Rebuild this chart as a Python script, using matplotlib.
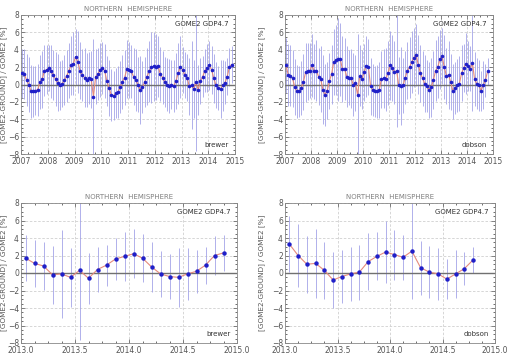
import matplotlib
matplotlib.use("Agg")
import matplotlib.pyplot as plt
from matplotlib.ticker import MultipleLocator, FormatStrFormatter

# monthly relative differences, Jan 2007 .. Nov 2014 (brewer), Jan 2007 .. Oct 2014 (dobson)
brewer_vals = [
    1.3, 1.2, 0.5, 0.0, -0.8, -0.8, -0.7, -0.6, 0.3, 0.6, 1.6, 1.7,
    1.9, 1.5, 1.1, 0.6, 0.2, -0.1, 0.1, 0.5, 1.0, 1.6, 2.2, 2.4,
    3.2, 2.6, 1.6, 1.1, 0.8, 0.5, 0.7, 0.6, -1.4, 0.9, 1.2, 1.7,
    1.9, 1.6, 0.4, -0.4, -1.2, -1.3, -1.0, -0.9, -0.3, 0.3, 0.8, 1.8,
    1.7, 1.5, 0.9, 0.5, 0.0, -0.6, -0.3, 0.3, 0.9, 1.5, 2.0, 2.1,
    2.0, 2.1, 1.2, 0.8, 0.3, 0.0, -0.2, 0.0, -0.2, 0.4, 1.3, 2.0,
    1.7, 1.1, 0.8, -0.2, -0.1, -0.5, 0.3, -0.6, 0.4, 0.9, 1.6, 1.9,
    2.2, 1.7, 0.7, -0.1, -0.4, -0.5, -0.1, 0.2, 0.9, 2.0, 2.3,
]
brewer_err = [
    2.8, 2.9, 3.0, 3.2, 3.0, 2.9, 2.8, 3.0, 3.1, 3.3, 2.9, 2.8,
    2.7, 3.0, 2.9, 3.1, 3.3, 2.8, 2.7, 2.9, 3.0, 3.2, 3.4, 3.6,
    3.2, 3.6, 3.3, 3.0, 3.4, 3.1, 3.0, 3.3, 6.6, 3.2, 3.0, 3.1,
    3.0, 3.1, 2.9, 3.2, 3.0, 2.8, 2.9, 3.0, 3.0, 3.1, 3.2, 3.3,
    3.2, 3.0, 3.3, 3.6, 3.2, 3.9, 3.0, 2.9, 3.3, 3.5, 4.1, 4.0,
    3.8, 3.5, 3.1, 3.0, 2.9, 3.0, 3.1, 2.8, 3.0, 3.2, 3.5, 3.6,
    2.65, 2.65, 2.7, 3.3, 5.05, 3.35, 7.9, 2.9, 2.6, 2.35, 2.45, 2.8,
    2.8, 2.75, 2.85, 2.65, 2.55, 3.35, 2.95, 2.45, 2.1, 2.2, 2.1,
]
dobson_vals = [
    2.2, 1.1, 1.0, 0.7, -0.3, -0.8, -0.8, -0.4, 0.3, 1.4, 1.5, 1.6,
    2.2, 1.5, 1.6, 0.9, 0.6, -0.6, -1.2, -0.7, 0.4, 1.2, 2.6, 2.8,
    2.9, 2.9, 1.8, 1.8, 0.9, 0.8, 0.7, 0.0, 0.2, -1.2, 1.0, 0.6,
    1.4, 2.1, 2.0, -0.2, -0.6, -0.8, -0.8, -0.6, 0.6, 0.7, 0.6, 1.3,
    2.2, 1.9, 1.4, 1.6, -0.1, -0.2, -0.1, 0.8, 1.6, 2.0, 2.6, 3.1,
    3.4, 2.3, 1.3, 0.7, 0.1, -0.2, -0.6, -0.3, 0.5, 1.6, 2.0, 2.9,
    3.3, 2.0, 1.0, 1.1, 0.3, -0.8, -0.4, -0.1, 0.1, 1.3, 1.9, 2.4,
    2.1, 1.8, 2.5, 0.6, 0.1, -0.1, -0.7, -0.1, 0.5, 1.5,
]
dobson_err = [
    3.2, 3.6, 3.5, 3.3, 3.2, 3.0, 2.9, 3.1, 3.2, 3.4, 3.3, 3.2,
    3.6, 3.2, 3.5, 3.3, 3.8, 4.0, 3.6, 3.3, 3.2, 3.4, 3.8, 4.0,
    4.8, 4.2, 3.8, 3.6, 3.5, 3.2, 3.4, 3.6, 3.2, 7.0, 3.5, 3.4,
    3.3, 3.5, 3.2, 3.3, 3.0, 2.9, 3.0, 3.2, 3.3, 3.4, 3.6, 3.7,
    4.0, 3.8, 3.6, 6.5, 3.3, 4.5, 3.2, 3.0, 3.3, 3.5, 3.6, 3.4,
    3.6, 3.4, 3.3, 3.2, 3.3, 3.0, 3.2, 3.4, 3.3, 3.5, 3.6, 3.4,
    3.2, 3.65, 3.25, 3.9, 3.25, 3.15, 3.0, 3.05, 3.15, 3.25, 2.75, 3.55,
    2.85, 2.6, 5.5, 3.1, 2.95, 2.95, 2.3, 2.75, 1.9, 1.5,
]
start_year = 2007
zoom_year = 2013
title = "NORTHERN  HEMISPHERE"
label = "GOME2 GDP4.7"
ylabel = "[GOME2-GROUND] / GOME2 [%]"

GREY = "#555555"


def months(n, y0):
    return [y0 + (i + 0.5) / 12.0 for i in range(n)]


def panel(ax, x, y, e, station, xlim, xmajor, fmt, ms, ylab_x):
    ax.errorbar(x, y, yerr=e, fmt="none", ecolor="#a3a3e8", elinewidth=0.6,
                capsize=0, zorder=2)
    ax.axhline(0, color="#707070", lw=1.0, zorder=3)
    ax.plot(x, y, color="#e58a7c", lw=0.8, zorder=4)
    ax.plot(x, y, "o", color="#1f1fc8", ms=ms, mec="none", zorder=5)
    ax.set_xlim(*xlim)
    ax.set_ylim(-8, 8)
    ax.xaxis.set_major_locator(MultipleLocator(xmajor))
    ax.xaxis.set_major_formatter(FormatStrFormatter(fmt))
    ax.yaxis.set_major_locator(MultipleLocator(2))
    ax.yaxis.set_minor_locator(MultipleLocator(0.5))
    ax.xaxis.set_minor_locator(MultipleLocator(xmajor / 4))
    ax.grid(True, which="major", color="#d0d0d0", ls=(0, (3, 2)), lw=0.6)
    ax.tick_params(labelsize=5.5, colors=GREY, length=3, width=0.5,
                   direction="in", top=True, right=True, pad=1.5)
    ax.tick_params(axis="x", pad=2.2)
    ax.tick_params(which="minor", length=1.5, width=0.4, direction="in",
                   top=True, right=True)
    for s in ax.spines.values():
        s.set_color("#888888")
        s.set_linewidth(0.6)
    ax.set_title(title, fontsize=5, color="#808080", pad=3)
    ax.set_ylabel(ylabel, fontsize=5.2, color=GREY)
    ax.yaxis.set_label_coords(ylab_x, 0.5)
    ax.text(0.97, 0.96, label, transform=ax.transAxes, ha="right", va="top",
            fontsize=5, color="#333333")
    ax.text(0.97, 0.04, station, transform=ax.transAxes, ha="right",
            va="bottom", fontsize=5, color="#333333")


fig = plt.figure(figsize=(5.18, 3.54), dpi=100)
W, H = 518.0, 354.0


def add(l, t, r, b):
    return fig.add_axes([l / W, 1 - b / H, (r - l) / W, (b - t) / H])


ax1 = add(21, 15, 235, 154)
ax2 = add(285, 15, 493, 154)
ax3 = add(21, 203, 237, 343)
ax4 = add(285, 203, 495, 343)

xb = months(len(brewer_vals), start_year)
xd = months(len(dobson_vals), start_year)
panel(ax1, xb, brewer_vals, brewer_err, "brewer", (2007, 2015), 1, "%d", 2.6, -0.066)
panel(ax2, xd, dobson_vals, dobson_err, "dobson", (2007, 2015), 1, "%d", 2.6, -0.095)

ib = 12 * (zoom_year - start_year)
panel(ax3, xb[ib:], brewer_vals[ib:], brewer_err[ib:], "brewer",
      (2013, 2015), 0.5, "%.1f", 3.2, -0.066)
panel(ax4, xd[ib:], dobson_vals[ib:], dobson_err[ib:], "dobson",
      (2013, 2015), 0.5, "%.1f", 3.2, -0.095)

fig.savefig("out.png", dpi=100)
